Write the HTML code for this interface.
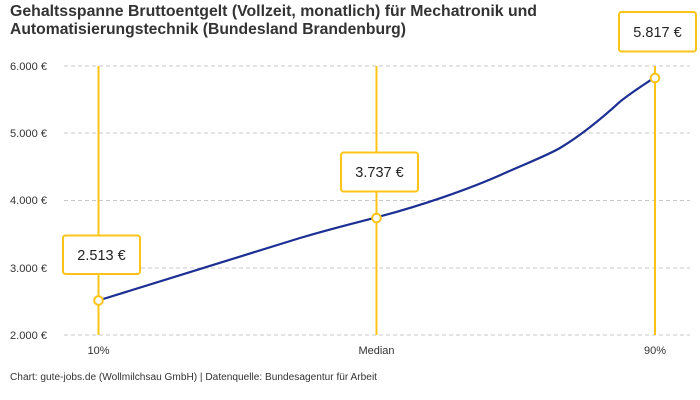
<!DOCTYPE html>
<html><head><meta charset="utf-8"><style>
html,body{margin:0;padding:0;background:#fff;}
svg{display:block;font-family:"Liberation Sans",sans-serif;}
</style></head><body>
<svg width="700" height="400" viewBox="0 0 700 400" xmlns="http://www.w3.org/2000/svg">
<rect width="700" height="400" fill="#fff"/>
<text x="10" y="16" font-size="15.8" font-weight="bold" fill="#333" textLength="527" lengthAdjust="spacingAndGlyphs">Gehaltsspanne Bruttoentgelt (Vollzeit, monatlich) für Mechatronik und</text>
<text x="10" y="34" font-size="15.8" font-weight="bold" fill="#333" textLength="396" lengthAdjust="spacingAndGlyphs">Automatisierungstechnik (Bundesland Brandenburg)</text>
<g stroke="#c8c8c8" stroke-width="1" stroke-dasharray="4,3">
<line x1="64" y1="66" x2="690" y2="66"/>
<line x1="64" y1="133" x2="690" y2="133"/>
<line x1="64" y1="200.5" x2="690" y2="200.5"/>
<line x1="64" y1="268" x2="690" y2="268"/>
<line x1="64" y1="335" x2="690" y2="335"/>
</g>
<g font-size="11" fill="#333">
<text x="10" y="70" textLength="37" lengthAdjust="spacingAndGlyphs">6.000 €</text>
<text x="10" y="137" textLength="37" lengthAdjust="spacingAndGlyphs">5.000 €</text>
<text x="10" y="204" textLength="37" lengthAdjust="spacingAndGlyphs">4.000 €</text>
<text x="10" y="272" textLength="37" lengthAdjust="spacingAndGlyphs">3.000 €</text>
<text x="10" y="339" textLength="37" lengthAdjust="spacingAndGlyphs">2.000 €</text>
</g>
<g stroke="#fcc419" stroke-width="2">
<line x1="98.5" y1="66" x2="98.5" y2="335"/>
<line x1="376.5" y1="66" x2="376.5" y2="335"/>
<line x1="655" y1="66" x2="655" y2="335"/>
</g>
<path fill="none" stroke="#1c2f93" stroke-width="2.2" stroke-linejoin="round" d="M98.3,300.5 C150,284 250,254 300,238 C330,229 355,223 376.7,217.3 C420,206 470,189 505,173 C530,162 548,155 560,148 C580,136 600,120 620,101.7 C632,92 645,84 653.3,78.3"/>
<g fill="#fff" stroke="#fcc419" stroke-width="2">
<circle cx="98.5" cy="300.5" r="4.3"/>
<circle cx="376.5" cy="218" r="4.3"/>
<circle cx="655" cy="78" r="4.3"/>
<rect x="63" y="235.5" width="77" height="38.5" rx="2.5"/>
<rect x="341" y="152.5" width="77" height="39" rx="2.5"/>
<rect x="619" y="12" width="77" height="39.5" rx="2.5"/>
</g>
<g font-size="14.5" fill="#222" text-anchor="middle">
<text x="101.5" y="260">2.513 €</text>
<text x="379.5" y="177">3.737 €</text>
<text x="657.5" y="37">5.817 €</text>
</g>
<g font-size="11" fill="#333" text-anchor="middle">
<text x="98.5" y="354">10%</text>
<text x="376.5" y="354">Median</text>
<text x="655" y="354">90%</text>
</g>
<text x="10" y="380" font-size="10" fill="#333" textLength="367" lengthAdjust="spacingAndGlyphs">Chart: gute-jobs.de (Wollmilchsau GmbH) | Datenquelle: Bundesagentur für Arbeit</text>
</svg>
</body></html>
